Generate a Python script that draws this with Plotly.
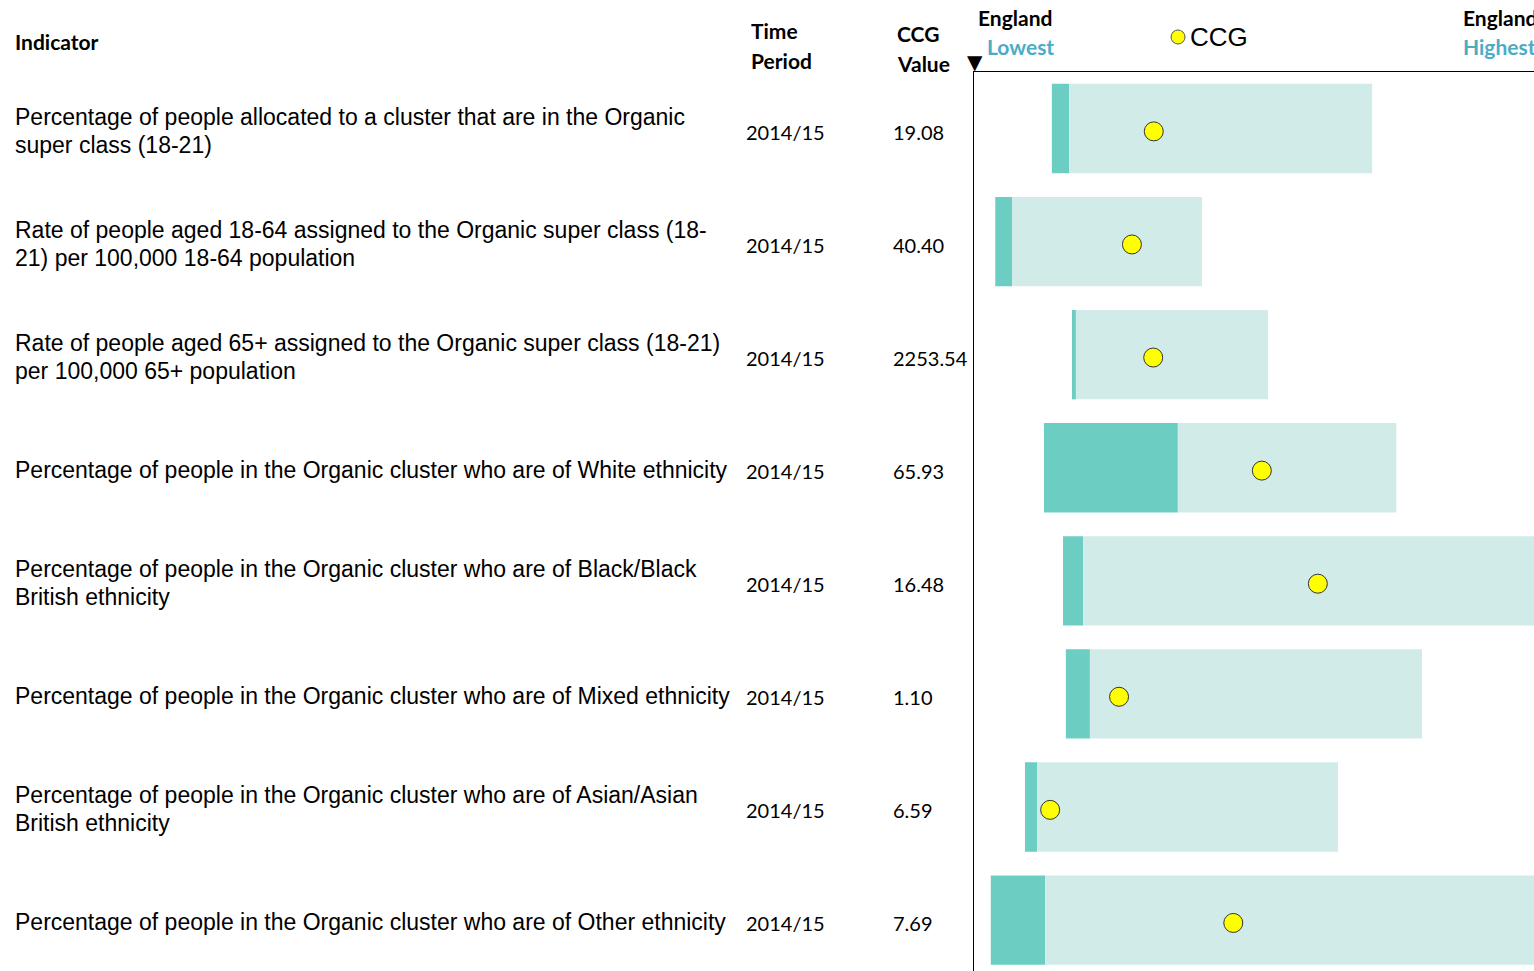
import plotly.graph_objects as go

W, H = 1534, 971

# Indicator table data (each indicator as its wrapped lines)
indicators = [
    ["Percentage of people allocated to a cluster that are in the Organic", "super class (18-21)"],
    ["Rate of people aged 18-64 assigned to the Organic super class (18-", "21) per 100,000 18-64 population"],
    ["Rate of people aged 65+ assigned to the Organic super class (18-21)", "per 100,000 65+ population"],
    ["Percentage of people in the Organic cluster who are of White ethnicity"],
    ["Percentage of people in the Organic cluster who are of Black/Black", "British ethnicity"],
    ["Percentage of people in the Organic cluster who are of Mixed ethnicity"],
    ["Percentage of people in the Organic cluster who are of Asian/Asian", "British ethnicity"],
    ["Percentage of people in the Organic cluster who are of Other ethnicity"],
]
time_periods = ["2014/15"] * 8
ccg_values = ["19.08", "40.40", "2253.54", "65.93", "16.48", "1.10", "6.59", "7.69"]

# Spine positions on a 0-100 display scale
england_lowest = [13.9, 3.8, 17.5, 12.5, 15.9, 16.4, 9.1, 3.0]
band_split = [17.0, 6.8, 18.2, 36.4, 19.5, 20.7, 11.3, 12.7]
england_highest = [71.1, 40.7, 52.5, 75.4, 112.0, 80.0, 65.0, 115.0]
ccg_position = [32.1, 28.2, 32.0, 51.4, 61.4, 25.9, 13.6, 46.3]

rows = list(range(len(indicators)))

DARK = "#6ccdc3"
LIGHT = "#d1ebe8"
BLUE = "#4bacc6"
BODY_FONT = "Liberation Sans, Arial, sans-serif"
CAL_FONT = "Lato, Calibri, sans-serif"

fig = go.Figure()

fig.add_trace(go.Bar(
    y=rows, base=england_lowest,
    x=[b - a for a, b in zip(england_lowest, band_split)],
    orientation="h", width=0.79, marker=dict(color=DARK, line=dict(width=0)),
    showlegend=False, hoverinfo="skip",
))
fig.add_trace(go.Bar(
    y=rows, base=band_split,
    x=[b - a for a, b in zip(band_split, england_highest)],
    orientation="h", width=0.79, marker=dict(color=LIGHT, line=dict(width=0)),
    showlegend=False, hoverinfo="skip",
))
fig.add_trace(go.Scatter(
    y=[r + 0.025 for r in rows], x=ccg_position, mode="markers",
    marker=dict(color="#ffff00", size=19, line=dict(color="#333333", width=1)),
    showlegend=False, hoverinfo="skip",
))

x0 = 974 / W
top = 1 - 72 / H

fig.update_layout(
    width=W, height=H,
    margin=dict(l=0, r=0, t=0, b=0),
    paper_bgcolor="white", plot_bgcolor="white",
    barmode="overlay",
    xaxis=dict(domain=[x0, 1], range=[0, 100], side="top", showline=True,
               linecolor="black", linewidth=1, showticklabels=False,
               showgrid=False, zeroline=False, ticks=""),
    yaxis=dict(domain=[0, top], range=[7.45, -0.5], showline=True,
               linecolor="black", linewidth=1, showticklabels=False,
               showgrid=False, zeroline=False, ticks=""),
)


def px_x(px):
    return px / W


def px_y(py):
    return 1 - py / H


ann = []
# Column headers
hdr = [
    (13, 41, "<b>Indicator</b>", 21, "black"),
    (749, 31, "<b>Time</b>", 21, "black"),
    (749, 60, "<b>Period</b>", 21, "black"),
    (895, 34, "<b>CCG</b>", 21, "black"),
    (895, 63, "<b>Value</b>", 21, "black"),
    (976, 18, "<b>England</b>", 21, "black"),
    (985, 46, "<b>Lowest</b>", 21, BLUE),
    (1461, 18, "<b>England</b>", 21, "black"),
    (1461, 46, "<b>Highest</b>", 21, BLUE),
]
for hx, hy, txt, sz, col in hdr:
    ann.append(dict(x=px_x(hx), y=px_y(hy), text=txt,
                    font=dict(family=CAL_FONT, size=sz, color=col)))
ann.append(dict(x=px_x(1188), y=px_y(37), text="CCG",
                font=dict(family=BODY_FONT, size=26, color="black")))
ann.append(dict(x=px_x(965), y=px_y(62), text="▼",
                font=dict(family="DejaVu Sans", size=20, color="black")))

for a in ann:
    a.update(xref="paper", yref="paper", xanchor="left", yanchor="middle",
             showarrow=False, align="left")

# Row texts
LINE_GAP = 28
for r in rows:
    lines = indicators[r]
    n = len(lines)
    for i, line in enumerate(lines):
        offset = (i - (n - 1) / 2) * LINE_GAP
        ann.append(dict(x=px_x(13), y=r, xref="paper", yref="y", text=line,
                        xanchor="left", yanchor="middle", align="left",
                        showarrow=False, yshift=-2 - offset,
                        font=dict(family=BODY_FONT, size=23, color="black")))
    ann.append(dict(x=px_x(744), y=r, xref="paper", yref="y", text=time_periods[r],
                    xanchor="left", yanchor="middle", align="left", showarrow=False,
                    yshift=-3, font=dict(family=CAL_FONT, size=20, color="black")))
    ann.append(dict(x=px_x(891), y=r, xref="paper", yref="y", text=ccg_values[r],
                    xanchor="left", yanchor="middle", align="left", showarrow=False,
                    yshift=-3, font=dict(family=CAL_FONT, size=20, color="black")))

fig.update_layout(annotations=ann)

# Legend marker for CCG
fig.add_shape(type="circle", xref="paper", yref="paper",
              x0=px_x(1171), x1=px_x(1185), y0=px_y(44), y1=px_y(30),
              fillcolor="#ffff00", line=dict(color="#555555", width=1))

fig.write_html("out.html")
